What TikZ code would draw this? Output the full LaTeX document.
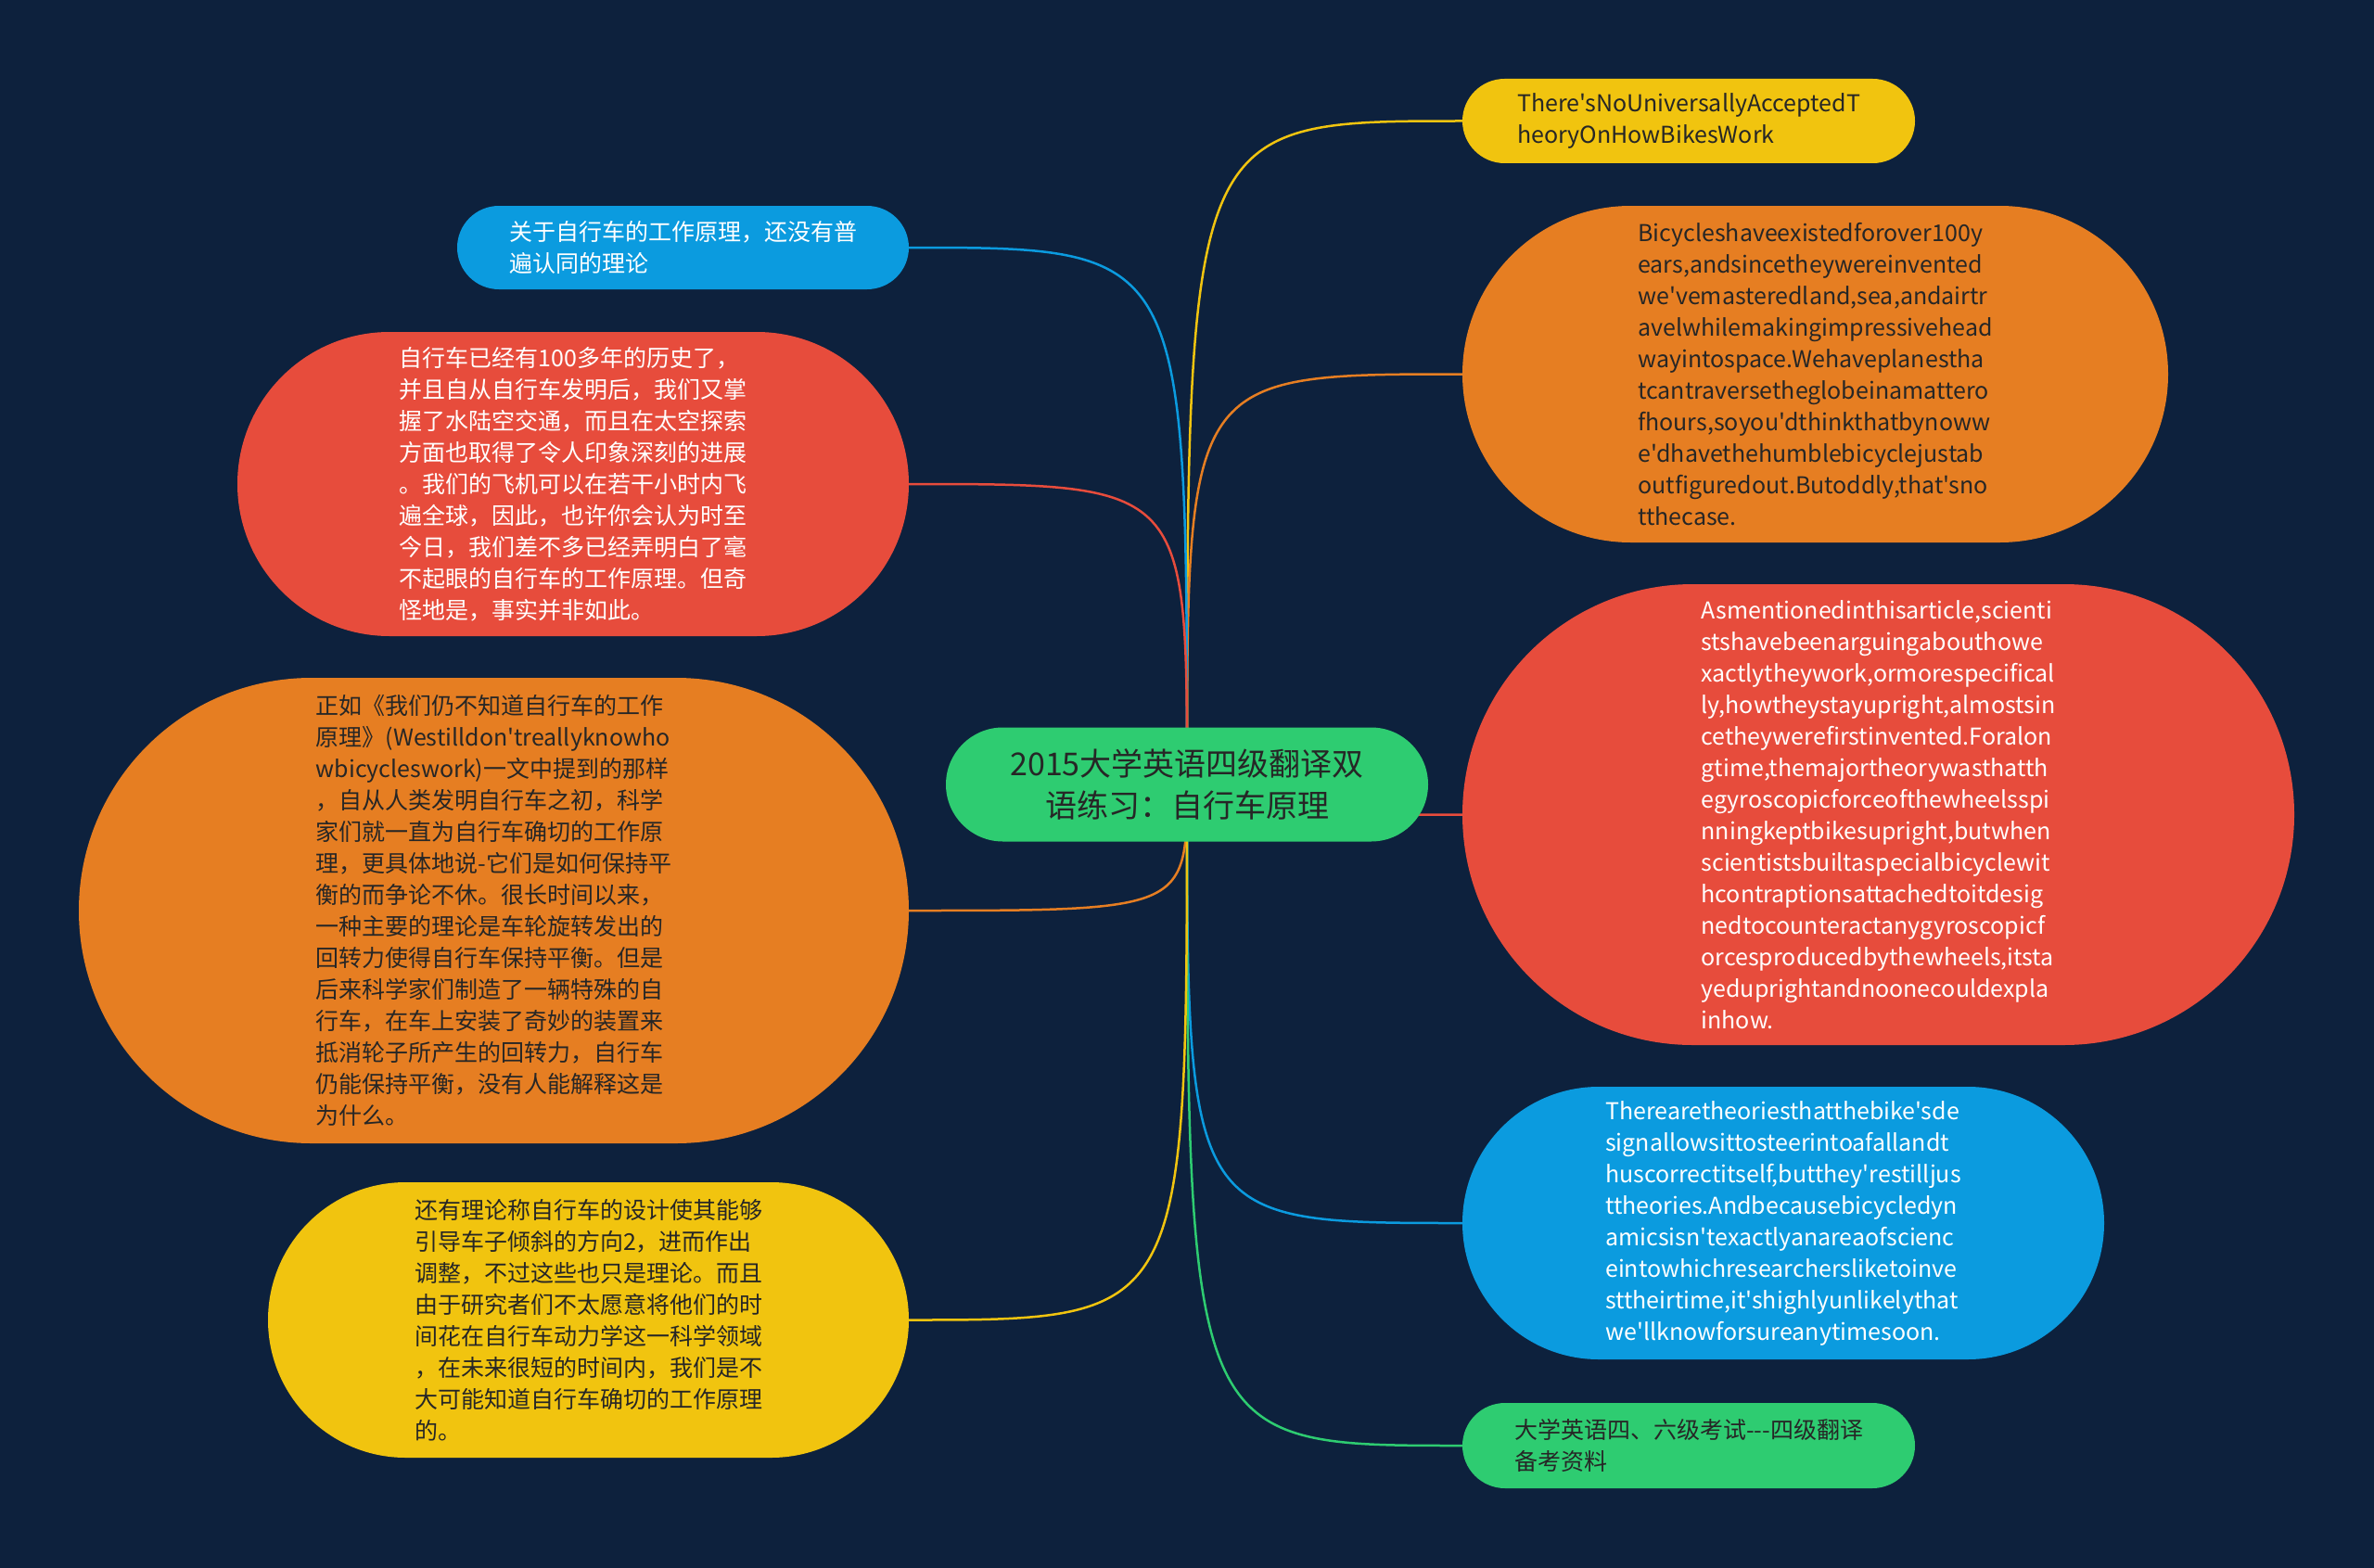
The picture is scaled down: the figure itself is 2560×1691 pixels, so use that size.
\documentclass[tikz,border=0pt]{standalone}
\usepackage{fontspec}
\usepackage{tikz}
\newfontfamily\cjk{Noto Sans CJK SC}
\definecolor{bgnavy}{HTML}{0D213D}
\definecolor{mmyellow}{HTML}{F1C40F}
\definecolor{mmorange}{HTML}{E67E22}
\definecolor{mmred}{HTML}{E74C3C}
\definecolor{mmblue}{HTML}{0B9BDF}
\definecolor{mmgreen}{HTML}{2ECC71}

\begin{document}
\begin{tikzpicture}[x=1pt, y=-1pt,
    topic/.style 2 args={rectangle, fill=#1, text=#2, inner sep=0pt, align=left,
        font=\cjk\fontsize{25}{34}\selectfont},
    pill/.style 2 args={minimum width=#1pt, minimum height=#2pt, rounded corners=0.5*#2pt}]
    \fill[bgnavy] (0,0) rectangle (2560,1691);
    \coordinate (hub) at (1280,846);
    % right branch (English)
    \node[topic={mmyellow}{black!85}, pill={488}{91}] (en1) at (1821,130.5)
        {There'sNoUniversallyAcceptedT\\heoryOnHowBikesWork};
    \node[topic={mmorange}{black!85}, pill={761}{363}] (en2) at (1957.5,403.5)
        {Bicycleshaveexistedforover100y\\ears,andsincetheywereinvented\\we'vemasteredland,sea,andairtr\\avelwhilemakingimpressivehead\\wayintospace.Wehaveplanestha\\tcantraversetheglobeinamattero\\fhours,soyou'dthinkthatbynoww\\e'dhavethehumblebicyclejustab\\outfiguredout.Butoddly,that'sno\\tthecase.};
    \node[topic={mmred}{white}, pill={897}{497}] (en3) at (2025.5,878.5)
        {Asmentionedinthisarticle,scienti\\stshavebeenarguingabouthowe\\xactlytheywork,ormorespecifical\\ly,howtheystayupright,almostsin\\cetheywerefirstinvented.Foralon\\gtime,themajortheorywasthatth\\egyroscopicforceofthewheelsspi\\nningkeptbikesupright,butwhen\\scientistsbuiltaspecialbicyclewit\\hcontraptionsattachedtoitdesig\\nedtocounteractanygyroscopicf\\orcesproducedbythewheels,itsta\\yeduprightandnoonecouldexpla\\inhow.};
    \node[topic={mmblue}{white}, pill={692}{294}] (en4) at (1923,1319)
        {Therearetheoriesthatthebike'sde\\signallowsittosteerintoafallandt\\huscorrectitself,butthey'restilljus\\ttheories.Andbecausebicycledyn\\amicsisn'texactlyanareaofscienc\\eintowhichresearchersliketoinve\\sttheirtime,it'shighlyunlikelythat\\we'llknowforsureanytimesoon.};
    \node[topic={mmgreen}{black!85}, pill={488}{92}] (en5) at (1821,1559)
        {大学英语四、六级考试---四级翻译\\备考资料};
    % left branch (Chinese)
    \node[topic={mmblue}{white}, pill={487}{90}] (cn1) at (736.5,267)
        {关于自行车的工作原理，还没有普\\遍认同的理论};
    \node[topic={mmred}{white}, pill={724}{328}] (cn2) at (618,522)
        {自行车已经有100多年的历史了，\\并且自从自行车发明后，我们又掌\\握了水陆空交通，而且在太空探索\\方面也取得了令人印象深刻的进展\\。我们的飞机可以在若干小时内飞\\遍全球，因此，也许你会认为时至\\今日，我们差不多已经弄明白了毫\\不起眼的自行车的工作原理。但奇\\怪地是，事实并非如此。};
    \node[topic={mmorange}{black!85}, pill={895}{502}] (cn3) at (532.5,982)
        {正如《我们仍不知道自行车的工作\\原理》(Westilldon'treallyknowho\\wbicycleswork)一文中提到的那样\\，自从人类发明自行车之初，科学\\家们就一直为自行车确切的工作原\\理，更具体地说-它们是如何保持平\\衡的而争论不休。很长时间以来，\\一种主要的理论是车轮旋转发出的\\回转力使得自行车保持平衡。但是\\后来科学家们制造了一辆特殊的自\\行车，在车上安装了奇妙的装置来\\抵消轮子所产生的回转力，自行车\\仍能保持平衡，没有人能解释这是\\为什么。};
    \node[topic={mmyellow}{black!85}, pill={691}{297}] (cn4) at (634.5,1423.5)
        {还有理论称自行车的设计使其能够\\引导车子倾斜的方向2，进而作出\\调整，不过这些也只是理论。而且\\由于研究者们不太愿意将他们的时\\间花在自行车动力学这一科学领域\\，在未来很短的时间内，我们是不\\大可能知道自行车确切的工作原理\\的。};
    % connectors from the hub
    \foreach \n/\col/\side in {en1/mmyellow/west, en2/mmorange/west, en3/mmred/west,
        en4/mmblue/west, en5/mmgreen/west, cn1/mmblue/east, cn2/mmred/east,
        cn3/mmorange/east, cn4/mmyellow/east}
        \draw[line width=2.5pt, \col] (hub) .. controls (hub |- \n.\side) .. (\n.\side);
    % central topic on top
    \node[topic={mmgreen}{black!85}, pill={520}{123}, align=center,
        font=\cjk\fontsize{34}{45}\selectfont] (root) at (hub)
        {2015大学英语四级翻译双\\语练习：自行车原理};
\end{tikzpicture}
\end{document}
